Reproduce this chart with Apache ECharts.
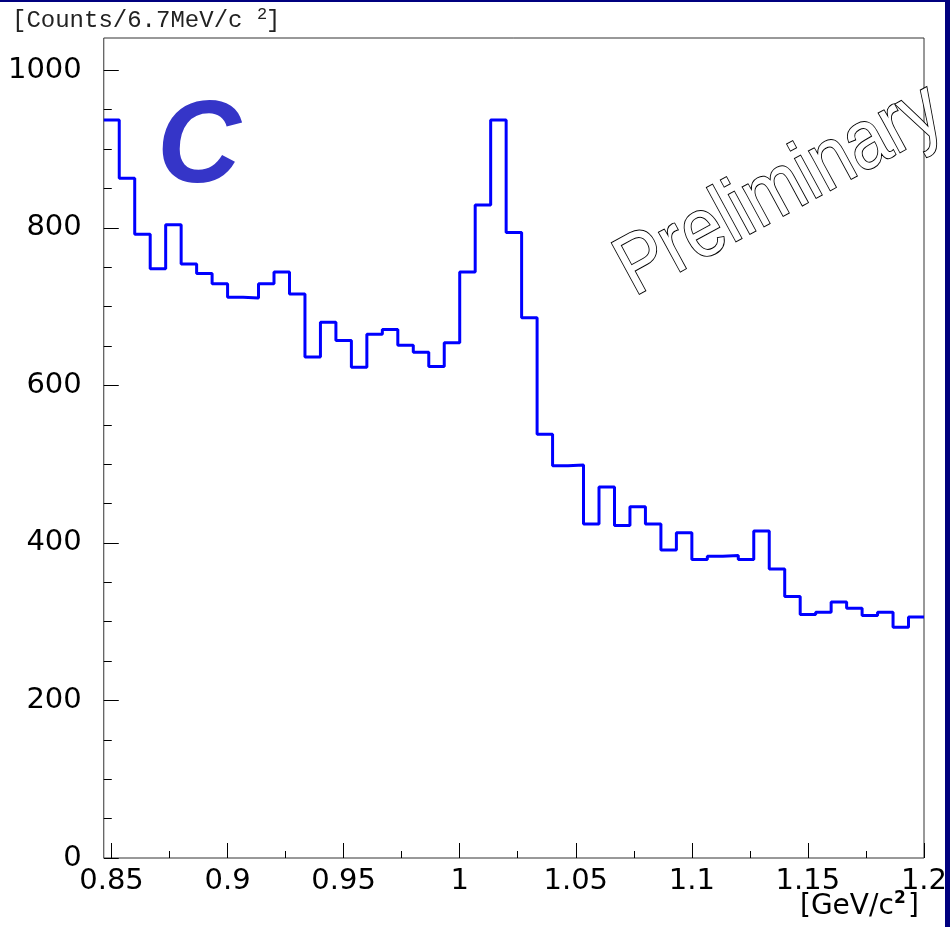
<!DOCTYPE html>
<html>
<head>
<meta charset="utf-8">
<script src="https://cdn.jsdelivr.net/npm/echarts@6/dist/echarts.min.js"></script>
<style>
html,body{margin:0;padding:0;background:#fff;}
#chart{width:950px;height:927px;}
</style>
</head>
<body>
<div id="chart"></div>
<script>
// Histogram: 60 bins from 0.8 to 1.2 GeV/c^2 (6.7 MeV/c^2 each); visible bins start at 0.8 + 7/150
const binStart = 0.8 + 7 / 150;
const binWidth = 1 / 150;
const xMax = 1.2;
const yMax = 1041;
const counts = [
  937, 863, 792, 748, 804, 754, 742, 729, 712, 711,
  729, 744, 716, 636, 680, 657, 623, 665, 671, 651,
  642, 624, 654, 744, 829, 937, 794, 686, 538, 498,
  499, 424, 471, 422, 446, 424, 391, 413, 379, 383,
  384, 379, 415, 367, 332, 309, 312, 325, 317, 308,
  312, 293, 306
];
const xTickMin = 0.85, xTickInterval = 0.05;
const yTickMax = 1000, yTickInterval = 200;
const yTitle = '[Counts/6.7MeV/c';
const xTitle = '[GeV/c';
const panelLabel = 'C';
const stampText = 'Preliminary';

const stepData = counts.map((v, i) => [binStart + i * binWidth, v]);
stepData.push([xMax, counts[counts.length - 1]]);

const plotLeft = 103.77, plotRight = 26, plotTop = 38, plotBottom = 69;
const plotW = 950 - plotLeft - plotRight;
const plotH = 927 - plotTop - plotBottom;
const tickGridLeft = plotLeft + (xTickMin - binStart) / (xMax - binStart) * plotW;
const tickGridTop = plotTop + (yMax - yTickMax) / yMax * plotH;

const labelFont = {fontFamily: 'DejaVu Sans', fontSize: 29, color: '#000'};
const fmt = v => String(Math.round(v * 1000) / 1000);

const chart = echarts.init(document.getElementById('chart'), null, {renderer: 'canvas'});
chart.setOption({
  animation: false,
  backgroundColor: '#fff',
  grid: [
    {left: plotLeft, right: plotRight, top: plotTop, bottom: plotBottom, show: true, borderColor: '#333', borderWidth: 1, backgroundColor: 'transparent'},
    {left: tickGridLeft, right: plotRight, top: plotTop, bottom: plotBottom},
    {left: plotLeft, right: plotRight, top: tickGridTop, bottom: plotBottom}
  ],
  xAxis: [
    {gridIndex: 0, type: 'value', min: binStart, max: xMax, show: false},
    {gridIndex: 1, type: 'value', min: xTickMin, max: xMax, interval: xTickInterval,
      axisLine: {show: false},
      axisTick: {show: true, inside: true, length: 15, lineStyle: {color: '#000', width: 1}},
      minorTick: {show: true, splitNumber: 2, length: 7, lineStyle: {color: '#000', width: 1}},
      splitLine: {show: false},
      axisLabel: Object.assign({margin: 9, showMinLabel: true, showMaxLabel: true, formatter: fmt}, labelFont)},
    {gridIndex: 2, type: 'value', min: 0, max: 1, show: false}
  ],
  yAxis: [
    {gridIndex: 0, type: 'value', min: 0, max: yMax, show: false},
    {gridIndex: 1, type: 'value', min: 0, max: 1, show: false},
    {gridIndex: 2, type: 'value', min: 0, max: yTickMax, interval: yTickInterval,
      axisLine: {show: false},
      axisTick: {show: true, inside: true, length: 15, lineStyle: {color: '#000', width: 1}},
      minorTick: {show: true, splitNumber: 4, length: 8, lineStyle: {color: '#000', width: 1}},
      splitLine: {show: false},
      axisLabel: Object.assign({margin: 22, formatter: fmt}, labelFont)}
  ],
  series: [{
    type: 'line',
    xAxisIndex: 0, yAxisIndex: 0,
    step: 'end',
    data: stepData,
    showSymbol: false,
    symbol: 'none',
    clip: true,
    lineStyle: {color: '#0000ff', width: 3},
    itemStyle: {color: '#0000ff'}
  }],
  graphic: [
    {type: 'rect', shape: {x: 0, y: 0, width: 950, height: 2}, style: {fill: '#00007f'}, z: 100},
    {type: 'rect', shape: {x: 945, y: 0, width: 5, height: 927}, style: {fill: '#00007f'}, z: 100},
    {type: 'text', x: 12, y: 21, z: 50, style: {text: yTitle, font: '24px "Liberation Mono"', fill: '#222', verticalAlign: 'middle', align: 'left'}},
    {type: 'text', x: 257, y: 14, z: 50, style: {text: '2', font: '17px "Liberation Mono"', fill: '#222', verticalAlign: 'middle', align: 'left'}},
    {type: 'text', x: 266, y: 21, z: 50, style: {text: ']', font: '24px "Liberation Mono"', fill: '#222', verticalAlign: 'middle', align: 'left'}},
    {type: 'text', x: 800, y: 907, z: 50, style: {text: xTitle, font: '28px "DejaVu Sans"', fill: '#000', verticalAlign: 'middle', align: 'left'}},
    {type: 'text', x: 894, y: 899, z: 50, style: {text: '2', font: 'bold 17px "DejaVu Sans"', fill: '#000', verticalAlign: 'middle', align: 'left'}},
    {type: 'text', x: 908, y: 907, z: 50, style: {text: ']', font: '28px "DejaVu Sans"', fill: '#000', verticalAlign: 'middle', align: 'left'}},
    {type: 'text', x: 199, y: 150, z: 50, style: {text: panelLabel, font: 'italic bold 116px "Liberation Sans"', fill: '#3535c8', verticalAlign: 'middle', align: 'center'}},
    {type: 'text', x: 780, y: 191, rotation: 28.5 * Math.PI / 180, scaleX: 0.85, z: 50,
      style: {text: stampText, font: '84px "Liberation Sans"', fill: '#fff', stroke: '#000', lineWidth: 2, verticalAlign: 'middle', align: 'center'}}
  ]
});
</script>
</body>
</html>
